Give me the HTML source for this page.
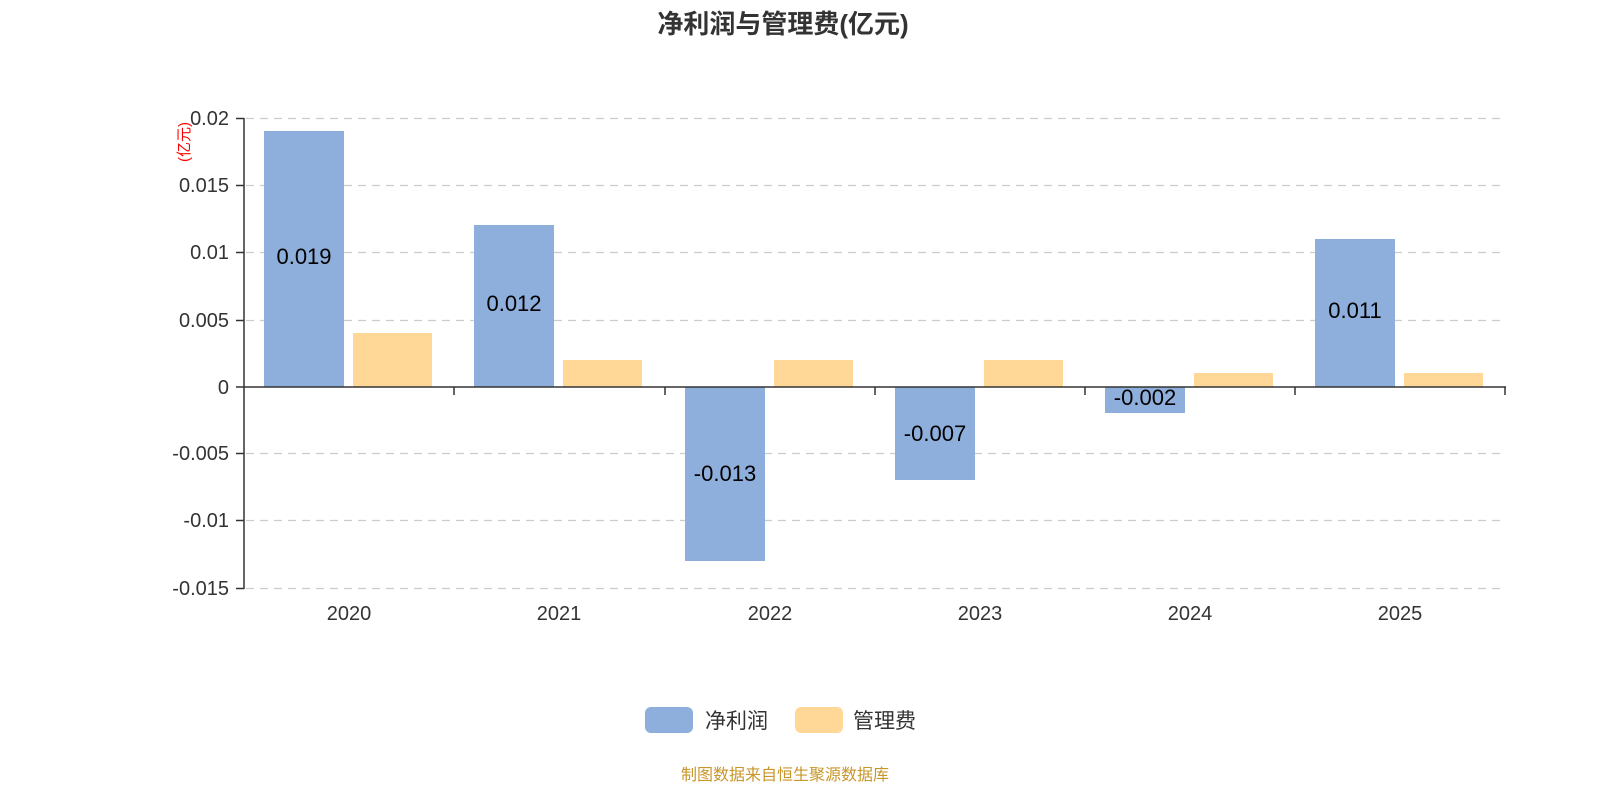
<!DOCTYPE html>
<html><head><meta charset="utf-8"><style>
html,body{margin:0;padding:0;background:#fff;}
svg{display:block;font-family:"Liberation Sans","Noto Sans CJK SC",sans-serif;}
</style></head><body>
<svg width="1600" height="800" viewBox="0 0 1600 800" xmlns="http://www.w3.org/2000/svg">
<text x="783" y="33" text-anchor="middle" font-size="26" font-weight="bold" fill="#333">净利润与管理费(亿元)</text>
<g stroke="#ccc" stroke-width="1.2" stroke-dasharray="8,6">
<line x1="246" y1="118.5" x2="1505" y2="118.5"/>
<line x1="246" y1="185.5" x2="1505" y2="185.5"/>
<line x1="246" y1="252.5" x2="1505" y2="252.5"/>
<line x1="246" y1="320.5" x2="1505" y2="320.5"/>
<line x1="246" y1="453.5" x2="1505" y2="453.5"/>
<line x1="246" y1="520.5" x2="1505" y2="520.5"/>
<line x1="246" y1="588.5" x2="1505" y2="588.5"/>
</g>
<g fill="#8eaedb">
<rect x="264" y="131" width="80" height="256"/>
<rect x="474" y="225" width="80" height="162"/>
<rect x="685" y="387" width="80" height="174"/>
<rect x="895" y="387" width="80" height="93"/>
<rect x="1105" y="387" width="80" height="26"/>
<rect x="1315" y="239" width="80" height="148"/>
</g>
<g fill="#ffd898">
<rect x="353" y="333" width="79" height="54"/>
<rect x="563" y="360" width="79" height="27"/>
<rect x="774" y="360" width="79" height="27"/>
<rect x="984" y="360" width="79" height="27"/>
<rect x="1194" y="373" width="79" height="14"/>
<rect x="1404" y="373" width="79" height="14"/>
</g>
<g stroke="#333" stroke-width="1.5">
<line x1="244" y1="118" x2="244" y2="589"/>
<line x1="244" y1="387" x2="1506" y2="387"/>
<line x1="236" y1="118.5" x2="244" y2="118.5"/>
<line x1="236" y1="185.5" x2="244" y2="185.5"/>
<line x1="236" y1="252.5" x2="244" y2="252.5"/>
<line x1="236" y1="320.5" x2="244" y2="320.5"/>
<line x1="236" y1="387" x2="244" y2="387"/>
<line x1="236" y1="453.5" x2="244" y2="453.5"/>
<line x1="236" y1="520.5" x2="244" y2="520.5"/>
<line x1="236" y1="588.5" x2="244" y2="588.5"/>
<line x1="454" y1="387" x2="454" y2="395"/>
<line x1="665" y1="387" x2="665" y2="395"/>
<line x1="875" y1="387" x2="875" y2="395"/>
<line x1="1085" y1="387" x2="1085" y2="395"/>
<line x1="1295" y1="387" x2="1295" y2="395"/>
<line x1="1505" y1="387" x2="1505" y2="395"/>
</g>
<g font-size="20" fill="#333" text-anchor="end">
<text x="229" y="125">0.02</text>
<text x="229" y="192">0.015</text>
<text x="229" y="259">0.01</text>
<text x="229" y="327">0.005</text>
<text x="229" y="394">0</text>
<text x="229" y="460">-0.005</text>
<text x="229" y="527">-0.01</text>
<text x="229" y="595">-0.015</text>
</g>
<text transform="translate(189,142) rotate(-90)" font-size="15" fill="#f00" text-anchor="middle">(亿元)</text>
<g font-size="20" fill="#333" text-anchor="middle">
<text x="349" y="620">2020</text>
<text x="559" y="620">2021</text>
<text x="770" y="620">2022</text>
<text x="980" y="620">2023</text>
<text x="1190" y="620">2024</text>
<text x="1400" y="620">2025</text>
</g>
<g font-size="22" fill="#000" text-anchor="middle">
<text x="304" y="264">0.019</text>
<text x="514" y="311">0.012</text>
<text x="725" y="481">-0.013</text>
<text x="935" y="441">-0.007</text>
<text x="1145" y="405">-0.002</text>
<text x="1355" y="318">0.011</text>
</g>
<rect x="645" y="707" width="48" height="26" rx="6" fill="#8eaedb"/>
<text x="705" y="728" font-size="21" fill="#333">净利润</text>
<rect x="795" y="707" width="48" height="26" rx="6" fill="#ffd898"/>
<text x="853" y="728" font-size="21" fill="#333">管理费</text>
<text x="785" y="780" font-size="16" fill="#c8962a" text-anchor="middle">制图数据来自恒生聚源数据库</text>
</svg>
</body></html>
